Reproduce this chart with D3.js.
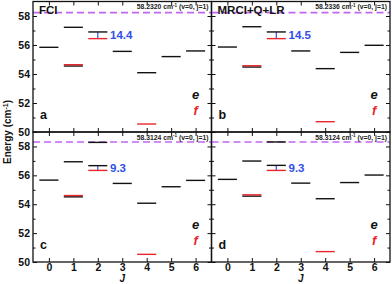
<!DOCTYPE html>
<html>
<head>
<meta charset="utf-8">
<script src="https://cdn.jsdelivr.net/npm/d3@7"></script>
<style>
  body { margin: 0; background: #fff; }
  svg text { font-family: "Liberation Sans", Arial, sans-serif; font-weight: bold; }
</style>
</head>
<body>
<div id="chart"></div>
<script>
// data
const jValues = [0, 1, 2, 3, 4, 5, 6];
const yMajor = [50, 52, 54, 56, 58];
const yMinor = [51, 53, 55, 57];
const panelLetters = ['a', 'b', 'c', 'd'];
const methodNames = ['FCI', 'MRCI+Q+LR', '', ''];
const thresholds = [58.2320, 58.2336, 58.3124, 58.3124];
const thresholdLabels = ['58.2320', '58.2336', '58.3124', '58.3124'];
const splitLabels = ['14.4', '14.5', '9.3', '9.3'];
const splitJ = 2;

// e levels (black) [J, energy]
const eLevelsA = [[0, 55.84], [1, 57.22], [1, 54.55], [2, 56.90], [3, 55.56], [4, 54.09], [5, 55.20], [6, 55.59]];
const eLevelsB = [[0, 55.86], [1, 57.26], [1, 54.48], [2, 56.90], [3, 55.59], [4, 54.37], [5, 55.49], [6, 55.98]];
const eLevelsC = [[0, 55.67], [1, 56.94], [1, 54.51], [2, 58.28], [2, 56.67], [3, 55.44], [4, 54.07], [5, 55.21], [6, 55.65]];
const eLevelsD = [[0, 55.72], [1, 56.99], [1, 54.56], [2, 58.31], [2, 56.69], [3, 55.46], [4, 54.38], [5, 55.50], [6, 56.02]];
// f levels (red)
const fLevelsA = [[1, 54.64], [2, 56.44], [4, 50.55]];
const fLevelsB = [[1, 54.57], [2, 56.44], [4, 50.71]];
const fLevelsC = [[1, 54.60], [2, 56.34], [4, 50.53]];
const fLevelsD = [[1, 54.65], [2, 56.34], [4, 50.72]];

const eLevels = [eLevelsA, eLevelsB, eLevelsC, eLevelsD];
const fLevels = [fLevelsA, fLevelsB, fLevelsC, fLevelsD];

const W = 392, H = 284;
const colX = [33, 211.5, 390];
const rowY = [1.5, 132, 262];
const red = '#e8262c', blue = '#2f4fe8', violet = '#c266f2';

const svg = d3.select('#chart').append('svg')
    .attr('width', W).attr('height', H);

panelLetters.forEach(function (letter, i) {
    var col = i % 2, row = Math.floor(i / 2);
    var x0 = colX[col], x1 = colX[col + 1];
    var y0 = rowY[row], y1 = rowY[row + 1];

    var x = d3.scaleLinear().domain([-0.65, 6.65]).range([x0, x1]);
    var y = d3.scaleLinear().domain([50, 59]).range([y1, y0]);

    var g = svg.append('g');

    // threshold dashed line
    g.append('line')
        .attr('x1', x0).attr('x2', x1)
        .attr('y1', y(thresholds[i])).attr('y2', y(thresholds[i]))
        .attr('stroke', violet).attr('stroke-width', 1.6)
        .attr('stroke-dasharray', '7,4');

    // splitting marker
    var fs = fLevels[i].find(function (d) { return d[0] === splitJ; });
    var es = eLevels[i].filter(function (d) { return d[0] === splitJ; })
        .sort(function (a, b) { return Math.abs(a[1] - fs[1]) - Math.abs(b[1] - fs[1]); })[0];
    g.append('line')
        .attr('x1', x(splitJ)).attr('x2', x(splitJ))
        .attr('y1', y(es[1])).attr('y2', y(fs[1]))
        .attr('stroke', blue).attr('stroke-width', 1.2);
    g.append('text')
        .attr('x', x(splitJ) + 0.5 * (x(1) - x(0)))
        .attr('y', (y(es[1]) + y(fs[1])) / 2 + 4)
        .attr('fill', blue).attr('font-size', 11.5)
        .text(splitLabels[i]);

    // levels
    var hw = 0.39;
    g.selectAll('line.e').data(eLevels[i]).enter().append('line')
        .attr('class', 'e')
        .attr('x1', function (d) { return x(d[0] - hw); })
        .attr('x2', function (d) { return x(d[0] + hw); })
        .attr('y1', function (d) { return y(d[1]); })
        .attr('y2', function (d) { return y(d[1]); })
        .attr('stroke', '#111').attr('stroke-width', 1.4);
    g.selectAll('line.f').data(fLevels[i]).enter().append('line')
        .attr('class', 'f')
        .attr('x1', function (d) { return x(d[0] - hw); })
        .attr('x2', function (d) { return x(d[0] + hw); })
        .attr('y1', function (d) { return y(d[1]); })
        .attr('y2', function (d) { return y(d[1]); })
        .attr('stroke', red).attr('stroke-width', 1.4);

    // axes with inward ticks
    g.append('g').attr('transform', 'translate(' + x0 + ',0)')
        .call(d3.axisLeft(y).tickValues(yMajor).tickSize(-4).tickPadding(3)
            .tickFormat(col === 0 ? d3.format('d') : ''));
    g.append('g').attr('transform', 'translate(' + x0 + ',0)')
        .call(d3.axisLeft(y).tickValues(yMinor).tickSize(-2.5).tickFormat(''));
    g.append('g').attr('transform', 'translate(' + x1 + ',0)')
        .call(d3.axisRight(y).tickValues(yMajor).tickSize(-4).tickFormat(''));
    g.append('g').attr('transform', 'translate(' + x1 + ',0)')
        .call(d3.axisRight(y).tickValues(yMinor).tickSize(-2.5).tickFormat(''));
    g.append('g').attr('transform', 'translate(0,' + y1 + ')')
        .call(d3.axisBottom(x).tickValues(jValues).tickSize(-4).tickPadding(1.5)
            .tickFormat(row === 1 ? d3.format('d') : ''));
    g.append('g').attr('transform', 'translate(0,' + y0 + ')')
        .call(d3.axisTop(x).tickValues(jValues).tickSize(-4).tickFormat(''));

    g.selectAll('.domain').remove();
    g.selectAll('.tick line').attr('stroke', '#111').attr('stroke-width', 1);
    g.selectAll('.tick text').attr('font-size', 10.5).attr('fill', '#111')
        .attr('font-family', '"Liberation Sans", Arial, sans-serif').attr('font-weight', 'bold');

    // frame
    g.append('rect')
        .attr('x', x0).attr('y', y0)
        .attr('width', x1 - x0).attr('height', y1 - y0)
        .attr('fill', 'none').attr('stroke', '#111').attr('stroke-width', 1.3);

    // method name
    if (methodNames[i]) {
        g.append('text').attr('x', x0 + 6).attr('y', y0 + 12)
            .attr('font-size', 11.5).attr('fill', '#111').text(methodNames[i]);
    }

    // threshold label
    var tl = g.append('text').attr('x', x1 - 3).attr('y', y0 + 7.5)
        .attr('text-anchor', 'end').attr('font-size', 6.8).attr('fill', '#222');
    tl.append('tspan').text(thresholdLabels[i] + ' cm');
    tl.append('tspan').attr('dy', -2.5).attr('font-size', 4.6).text('-1');
    tl.append('tspan').attr('dy', 2.5).text(' (v=0, j=1)');

    // e / f labels
    g.append('text').attr('x', x(6)).attr('y', y(52.3))
        .attr('text-anchor', 'middle').attr('font-size', 13).attr('font-style', 'italic')
        .attr('fill', '#111').text('e');
    g.append('text').attr('x', x(6)).attr('y', y(51.2))
        .attr('text-anchor', 'middle').attr('font-size', 13).attr('font-style', 'italic')
        .attr('fill', red).text('f');

    // panel letter
    g.append('text').attr('x', x(0) - 9).attr('y', y(51.2) + 4)
        .attr('font-size', 12.5).attr('fill', '#111').text(letter);

    // x axis title
    if (row === 1) {
        g.append('text').attr('x', (x0 + x1) / 2).attr('y', 282)
            .attr('text-anchor', 'middle').attr('font-size', 10).attr('font-style', 'italic')
            .attr('fill', '#111').text('J');
    }
});

// y axis title
var yt = svg.append('text')
    .attr('transform', 'translate(11,' + rowY[1] + ') rotate(-90)')
    .attr('text-anchor', 'middle').attr('font-size', 10).attr('fill', '#111');
yt.append('tspan').text('Energy (cm');
yt.append('tspan').attr('dy', -3.5).attr('font-size', 7).text('-1');
yt.append('tspan').attr('dy', 3.5).text(')');
</script>
</body>
</html>
